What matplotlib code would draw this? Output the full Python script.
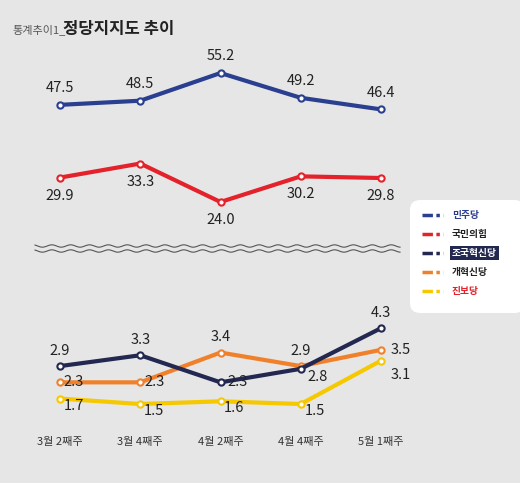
import matplotlib.pyplot as plt
from matplotlib.patches import FancyBboxPatch
import numpy as np

plt.rcParams['font.family'] = ['Noto Sans CJK KR', 'DejaVu Sans']

weeks = ['3월 2째주', '3월 4째주', '4월 2째주', '4월 4째주', '5월 1째주']
minju = [47.5, 48.5, 55.2, 49.2, 46.4]
ppp = [29.9, 33.3, 24.0, 30.2, 29.8]
rebuild = [2.9, 3.3, 2.3, 2.8, 4.3]
reform = [2.3, 2.3, 3.4, 2.9, 3.5]
progressive = [1.7, 1.5, 1.6, 1.5, 3.1]

c_blue, c_red, c_navy, c_orange, c_yellow = '#2a3f8f', '#e3222b', '#232850', '#f0812a', '#f6c800'
bg = '#e6e6e6'

W, H = 520, 483
fig = plt.figure(figsize=(W / 100, H / 100), dpi=100, facecolor=bg)

def px_axes(x0, y0, x1, y1):
    return fig.add_axes([x0 / W, 1 - y1 / H, (x1 - x0) / W, (y1 - y0) / H])

x = np.arange(5)
xl = (-40 / 80.25, 4 + 39 / 80.25)

top = px_axes(20, 60, 420, 220)
top.set_xlim(xl); top.set_ylim(19.64, 58.35)
bot = px_axes(20, 300, 420, 420)
bot.set_xlim(xl); bot.set_ylim(0.91, 5.34)
for a in (top, bot):
    a.axis('off')

def series(ax, vals, color, offs, z):
    ax.plot(x, vals, color=color, lw=3, marker='o', ms=4.5, mfc='white', mec=color, mew=1.5, zorder=z)
    for xi, v, o in zip(x, vals, offs):
        ax.annotate(f'{v:.1f}', (xi, v), xytext=o, textcoords='offset points',
                    ha='center', va='center', fontsize=10.5, color='#222222', zorder=10)

series(top, minju, c_blue, [(0, 12)] * 5, 3)
series(top, ppp, c_red, [(0, -13)] * 5, 3)
series(bot, progressive, c_yellow, [(10, -5), (10, -5), (10, -5), (10, -5), (14, -10)], 2)
series(bot, reform, c_orange, [(10, 0), (10, 0), (0, 11), (0, 11), (14, 0)], 3)
series(bot, rebuild, c_navy, [(0, 11), (0, 11), (12, 0), (12, -6), (0, 11)], 4)

for i, w in enumerate(weeks):
    bot.annotate(w, (x[i], 0.91), xytext=(0, -16), textcoords='offset points',
                 ha='center', va='center', fontsize=8, color='#333333', annotation_clip=False)

# axis break
lx = np.linspace(35 / W, 400 / W, 200)
for yb in (246, 251):
    fig.add_artist(plt.Line2D(lx, 1 - (yb + 1.2 * np.sin(lx * W / 3)) / H, color='#555555', lw=0.8))

# title
fig.text(12 / W, 1 - 30 / H, '통계추이1_', fontsize=8, color='#555555', va='center')
fig.text(63 / W, 1 - 29 / H, '정당지지도 추이', fontsize=12, fontweight='bold', color='#222222', va='center')

# legend
fig.add_artist(FancyBboxPatch((410 / W, 1 - 313 / H), 115 / W, 113 / H,
                              boxstyle='round,pad=0,rounding_size=0.02', fc='white', ec='none'))
names = ['민주당', '국민의힘', '조국혁신당', '개혁신당', '진보당']
cols = [c_blue, c_red, c_navy, c_orange, c_yellow]
tcols = [c_blue, '#222222', 'white', '#222222', c_red]
for i, (n, c, tc) in enumerate(zip(names, cols, tcols)):
    yy = 1 - (215 + 19 * i) / H
    fig.add_artist(plt.Line2D([422 / W, 443 / W], [yy, yy], color=c, lw=2.5, ls=(0, (3, 1, 1, 1))))
    kw = {}
    if i == 2:
        kw = dict(bbox=dict(fc=c_navy, ec='none', pad=1.5))
    fig.text(452 / W, yy, n, fontsize=7, fontweight='bold', color=tc, va='center', **kw)

fig.savefig('out.png', dpi=100, facecolor=bg)
